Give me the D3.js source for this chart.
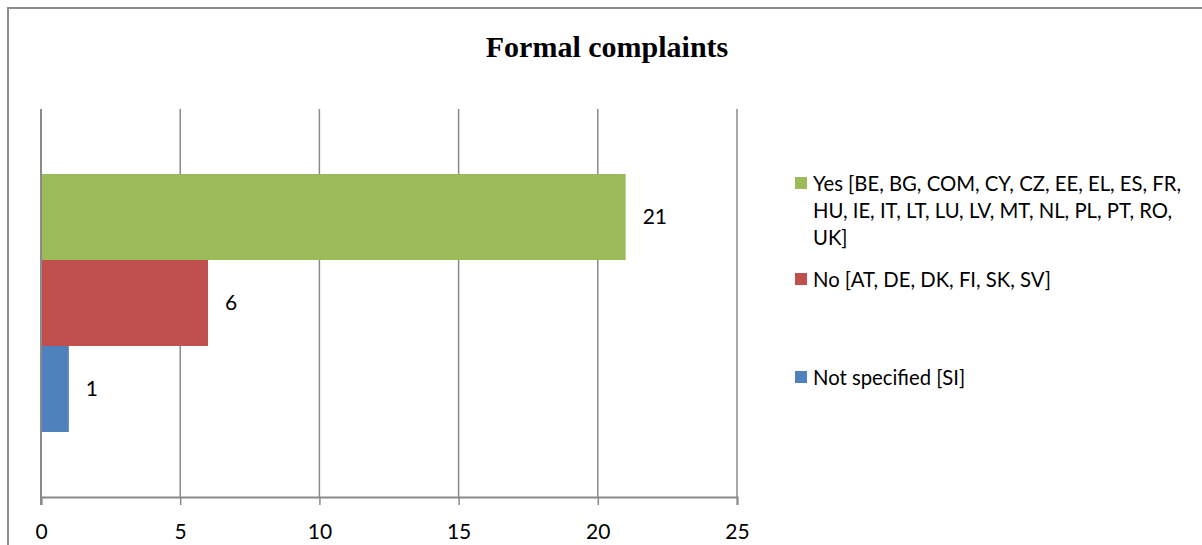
<!DOCTYPE html>
<html>
<head>
<meta charset="utf-8">
<script src="https://cdn.jsdelivr.net/npm/d3@7"></script>
<style>
  html, body { margin: 0; padding: 0; background: #fff; }
  svg { display: block; }
</style>
</head>
<body>
<svg id="chart" width="1202" height="545"></svg>
<script>
// Series (one bar each), top to bottom
const seriesKeys = ["yes", "no", "notSpecified"];
const seriesValues = [21, 6, 1];
const seriesColors = ["#9BBB59", "#C0504D", "#4F81BD"];
// Legend entries, wrapped as they appear
const legendLines = [
  ["Yes [BE, BG, COM, CY, CZ, EE, EL, ES, FR,", "HU, IE, IT, LT, LU, LV, MT, NL, PL, PT, RO,", "UK]"],
  ["No [AT, DE, DK, FI, SK, SV]"],
  ["Not specified [SI]"]
];
const xTicks = [0, 5, 10, 15, 20, 25];
const titleText = "Formal complaints";

const svg = d3.select("#chart");
const bodyFont = "Lato, 'Open Sans', sans-serif";

// outer frame
svg.append("rect")
  .attr("x", 8).attr("y", 8)
  .attr("width", 1202).attr("height", 560)
  .attr("fill", "#fff")
  .attr("stroke", "#8c8c8c").attr("stroke-width", 2);

svg.append("text")
  .attr("x", 607).attr("y", 57)
  .attr("text-anchor", "middle")
  .attr("font-family", "'Liberation Serif', 'Times New Roman', serif")
  .attr("font-weight", "bold")
  .attr("font-size", 30)
  .text(titleText);

const plot = { left: 41, right: 737, top: 109, bottom: 497 };

const x = d3.scaleLinear().domain([0, 25]).range([plot.left, plot.right]);

// single category band, subdivided per series
const cat = d3.scaleBand().domain(["all"]).range([plot.top, plot.bottom])
  .paddingInner(0).paddingOuter(0.252);
const y = d3.scaleBand().domain(seriesKeys)
  .range([cat("all"), cat("all") + cat.bandwidth()]).padding(0);

// vertical gridlines
svg.append("g").selectAll("line")
  .data(xTicks)
  .join("line")
  .attr("x1", d => x(d)).attr("x2", d => x(d))
  .attr("y1", plot.top).attr("y2", plot.bottom)
  .attr("stroke", "#8a8a8a").attr("stroke-width", 1.5);

// bars
svg.append("g").selectAll("rect")
  .data(seriesKeys)
  .join("rect")
  .attr("x", x(0))
  .attr("y", k => y(k))
  .attr("width", (k, i) => x(seriesValues[i]) - x(0))
  .attr("height", y.bandwidth())
  .attr("fill", (k, i) => seriesColors[i]);

// value labels
svg.append("g").selectAll("text")
  .data(seriesKeys)
  .join("text")
  .attr("x", (k, i) => x(seriesValues[i]) + 17)
  .attr("y", k => y(k) + y.bandwidth() / 2)
  .attr("dy", "0.35em")
  .attr("font-family", bodyFont)
  .attr("font-size", 21)
  .attr("fill", "#000")
  .text((k, i) => seriesValues[i]);

// bottom axis
const axis = d3.axisBottom(x).tickValues(xTicks).tickSize(8).tickPadding(19);
const gAxis = svg.append("g")
  .attr("transform", `translate(0,${plot.bottom})`)
  .call(axis);
gAxis.select(".domain").attr("stroke", "#8a8a8a").attr("stroke-width", 2);
gAxis.selectAll(".tick line").attr("stroke", "#8a8a8a").attr("stroke-width", 1.5);
gAxis.selectAll(".tick text")
  .attr("font-family", bodyFont)
  .attr("font-size", 21)
  .attr("fill", "#000");
// axis line on the left edge of the plot
svg.append("line")
  .attr("x1", plot.left).attr("x2", plot.left)
  .attr("y1", plot.top).attr("y2", plot.bottom + 8)
  .attr("stroke", "#8a8a8a").attr("stroke-width", 2);

// legend
const legendBaselines = [[191, 218, 245], [287], [385]];
const legend = svg.append("g");
legendLines.forEach((lines, i) => {
  legend.append("rect")
    .attr("x", 795).attr("y", legendBaselines[i][0] - 14)
    .attr("width", 12).attr("height", 12)
    .attr("fill", seriesColors[i]);
  lines.forEach((line, j) => {
    legend.append("text")
      .attr("x", 813).attr("y", legendBaselines[i][j])
      .attr("font-family", bodyFont)
      .attr("font-size", 20.3)
      .attr("fill", "#000")
      .text(line);
  });
});
</script>
</body>
</html>
